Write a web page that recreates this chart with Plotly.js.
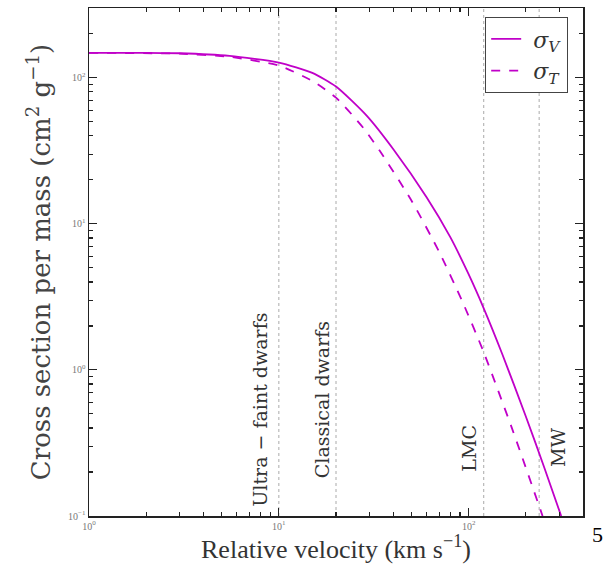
<!DOCTYPE html>
<html>
<head>
<meta charset="utf-8">
<script src="https://cdn.plot.ly/plotly-3.0.1.min.js"></script>
<style>html,body{margin:0;padding:0;background:#fff;}#chart{width:603px;height:569px;}</style>
</head>
<body>
<div id="chart"></div>
<script>
// Data
const velocitySigmaV = [1, 2, 3, 5.5, 10, 15, 20, 29, 40, 60, 80, 100, 120, 150, 200, 250, 307];
const sigmaV =         [148, 148, 147, 141, 127, 108, 87, 55, 32.5, 15.2, 8.1, 4.5, 2.64, 1.29, 0.48, 0.215, 0.1];
const velocitySigmaT = [1, 3, 5.5, 10, 15, 20, 28, 34, 50, 70, 93, 120, 170, 245];
const sigmaT =         [148, 146, 139, 121, 95, 73, 45, 31.6, 14.4, 6.4, 2.9, 1.32, 0.39, 0.1];
const markerVelocities = [10, 20, 120, 235];
const markerLabels = ["Ultra \u2212 faint dwarfs", "Classical dwarfs", "LMC", "MW"];
const xTickVals = [1, 10, 100];
const xTickText = ["10<sup>0</sup>", "10<sup>1</sup>", "10<sup>2</sup>"];
const yTickVals = [0.1, 1, 10, 100];
const yTickText = ["10<sup>\u22121</sup>", "10<sup>0</sup>", "10<sup>1</sup>", "10<sup>2</sup>"];
const xRange = [1, 400];
const yRange = [0.1, 300];

const serif = "Liberation Serif, DejaVu Serif, serif";
const wideSerif = "DejaVu Serif, Liberation Serif, serif";
const magenta = "#c000c8";

function minorVals(lo, hi) {
  const out = [];
  for (let d = Math.floor(Math.log10(lo)); d <= Math.ceil(Math.log10(hi)); d++) {
    for (let k = 2; k <= 9; k++) {
      const v = k * Math.pow(10, d);
      if (v > lo && v < hi) out.push(v);
    }
  }
  return out;
}

const traces = [];
markerVelocities.forEach(v => {
  traces.push({
    x: [v, v], y: yRange, mode: "lines", showlegend: false, hoverinfo: "skip",
    line: {color: "#aaaaaa", width: 1, dash: "dot"}
  });
});
traces.push({
  x: velocitySigmaV, y: sigmaV, mode: "lines", name: "\u00a0<i>\u03c3</i><sub><i>V</i></sub>",
  line: {color: magenta, width: 1.8, shape: "spline", smoothing: 0.6}
});
traces.push({
  x: velocitySigmaT, y: sigmaT, mode: "lines", name: "\u00a0<i>\u03c3</i><sub><i>T</i></sub>",
  line: {color: magenta, width: 1.8, dash: "dash", shape: "spline", smoothing: 0.6}
});

const labelCfg = [
  {xshift: -19, y: 0.209},
  {xshift: -14, y: 0.228},
  {xshift: -15, y: 0.134},
  {xshift: 19, y: 0.134}
];
const annotations = markerVelocities.map((v, i) => ({
  x: Math.log10(v), xref: "x", y: labelCfg[i].y, yref: "paper",
  text: markerLabels[i], textangle: -90, showarrow: false,
  xanchor: "center", yanchor: "middle", xshift: labelCfg[i].xshift,
  font: {family: wideSerif, size: 19, color: "#333"}
}));
annotations.push({
  x: 1.03, y: -0.037, xref: "paper", yref: "paper", text: "5", showarrow: false,
  xanchor: "center", yanchor: "middle", font: {family: serif, size: 22, color: "#000"}
});

const axisCommon = {
  type: "log", showgrid: false, zeroline: false, showline: true,
  linecolor: "#222", linewidth: 1.5, mirror: "allticks",
  ticks: "inside", ticklen: 8, tickwidth: 1.2, tickcolor: "#222",
  tickmode: "array",
  tickfont: {family: serif, size: 10, color: "#777"}
};

const layout = {
  width: 603, height: 569,
  margin: {l: 89, r: 20, t: 8, b: 53},
  paper_bgcolor: "#fff", plot_bgcolor: "#fff",
  showlegend: true,
  legend: {
    x: 0.97, y: 0.982, xanchor: "right", yanchor: "top",
    bordercolor: "#444", borderwidth: 1, bgcolor: "#fff",
    font: {family: wideSerif, size: 22, color: "#333"},
    tracegroupgap: 0
  },
  xaxis: Object.assign({}, axisCommon, {
    range: xRange.map(Math.log10),
    tickvals: xTickVals, ticktext: xTickText,
    minor: {tickmode: "array", tickvals: minorVals(xRange[0], xRange[1]), ticks: "inside", ticklen: 4, tickcolor: "#222", showgrid: false},
    title: {text: "Relative velocity (km s<sup>\u22121</sup>)", font: {family: serif, size: 26, color: "#333"}, standoff: 2}
  }),
  yaxis: Object.assign({}, axisCommon, {
    range: yRange.map(Math.log10),
    tickvals: yTickVals, ticktext: yTickText,
    minor: {tickmode: "array", tickvals: minorVals(yRange[0], yRange[1]), ticks: "inside", ticklen: 4, tickcolor: "#222", showgrid: false},
    title: {text: "Cross section per mass (cm<sup>2</sup> g<sup>\u22121</sup>)", font: {family: wideSerif, size: 26, color: "#444"}, standoff: 10}
  }),
  annotations: annotations
};

Plotly.newPlot("chart", traces, layout, {displayModeBar: false, staticPlot: true});
</script>
</body>
</html>
